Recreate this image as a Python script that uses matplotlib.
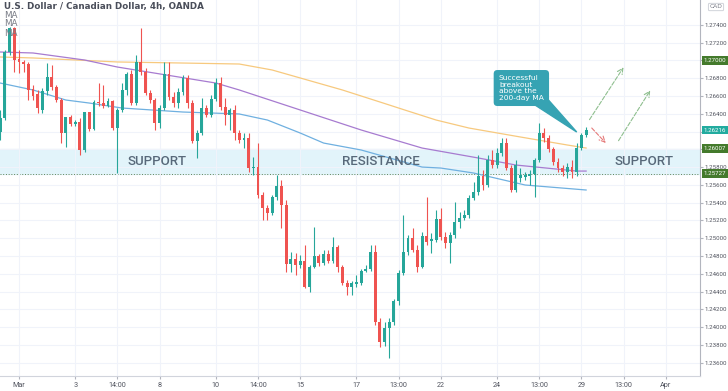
import numpy as np
import matplotlib.pyplot as plt

# USD/CAD 4h candles. bar 0 = first full candle on the left, Mar 1 opens at bar 3
bar = np.arange(-1, 125)

open_ = [1.26195, 1.26353, 1.27095, 1.27365, 1.27016, 1.26983, 1.26960, 1.26679, 1.26623, 1.26443,
         1.26656, 1.26814, 1.26701, 1.26555, 1.26184, 1.26364, 1.26285, 1.26308, 1.25993, 1.26420,
         1.26229, 1.26533, 1.26521, 1.26488, 1.26544, 1.26240, 1.26443, 1.26668, 1.26848, 1.26521,
         1.26983, 1.26870, 1.26634, 1.26555, 1.26296, 1.26465, 1.26848, 1.26589, 1.26521, 1.26645,
         1.26803, 1.26521, 1.26094, 1.26184, 1.26465, 1.26386, 1.26566, 1.26746, 1.26476, 1.26386,
         1.26443, 1.26184, 1.26105, 1.26128, 1.25790, 1.25801, 1.25486, 1.25340, 1.25284, 1.25464,
         1.25588, 1.25374, 1.24710, 1.24766, 1.24699, 1.24744, 1.24451, 1.24676, 1.24800, 1.24721,
         1.24823, 1.24744, 1.24901, 1.24676, 1.24496, 1.24451, 1.24485, 1.24496, 1.24631, 1.24654,
         1.24845, 1.24058, 1.23833, 1.23990, 1.24058, 1.24294, 1.24609, 1.24845, 1.25003, 1.24868,
         1.24676, 1.25025, 1.24969, 1.24980, 1.25216, 1.25014, 1.24946, 1.25036, 1.25183, 1.25228,
         1.25261, 1.25453, 1.25520, 1.25700, 1.25599, 1.25880, 1.25824, 1.25959, 1.26071, 1.25790,
         1.25543, 1.25678, 1.25689, 1.25700, 1.25723, 1.25880, 1.26184, 1.26128, 1.26004, 1.25858,
         1.25790, 1.25745, 1.25801, 1.25745, 1.26015, 1.26161]
high = [1.26443, 1.27118, 1.27376, 1.27376, 1.27118, 1.27005, 1.26983, 1.26724, 1.26668, 1.26690,
        1.26971, 1.26949, 1.26724, 1.26578, 1.26364, 1.26386, 1.26330, 1.26353, 1.26420, 1.26420,
        1.26555, 1.26746, 1.26724, 1.26578, 1.26555, 1.26465, 1.26746, 1.26870, 1.26893, 1.27061,
        1.27365, 1.26915, 1.26668, 1.26578, 1.26499, 1.26983, 1.26983, 1.26645, 1.26690, 1.26836,
        1.26836, 1.26555, 1.26218, 1.26578, 1.26499, 1.26611, 1.26803, 1.26814, 1.26578, 1.26465,
        1.26499, 1.26218, 1.26184, 1.26184, 1.25914, 1.26071, 1.25520, 1.25374, 1.25486, 1.25711,
        1.25655, 1.25430, 1.24845, 1.24834, 1.24811, 1.24924, 1.24699, 1.25126, 1.24823, 1.24868,
        1.24868, 1.25014, 1.24924, 1.24699, 1.24530, 1.24519, 1.24586, 1.24654, 1.24699, 1.24924,
        1.24924, 1.24103, 1.24058, 1.24103, 1.24316, 1.24643, 1.25261, 1.25036, 1.25115, 1.24924,
        1.25070, 1.25464, 1.25059, 1.25318, 1.25340, 1.25070, 1.25070, 1.25408, 1.25295, 1.25318,
        1.25486, 1.25633, 1.25936, 1.25768, 1.25936, 1.25993, 1.26015, 1.26128, 1.26128, 1.25824,
        1.25880, 1.25790, 1.25745, 1.25768, 1.25903, 1.26296, 1.26240, 1.26161, 1.26026, 1.25903,
        1.25824, 1.25846, 1.25880, 1.26071, 1.26184, 1.26251]
low = [1.26105, 1.26330, 1.27061, 1.26870, 1.26859, 1.26870, 1.26555, 1.26555, 1.26409, 1.26409,
       1.26611, 1.26668, 1.26533, 1.26071, 1.26026, 1.26263, 1.26263, 1.25936, 1.25970, 1.26206,
       1.26218, 1.26488, 1.26465, 1.26476, 1.26218, 1.25734, 1.26420, 1.26611, 1.26499, 1.26499,
       1.26836, 1.26611, 1.26521, 1.26218, 1.26240, 1.26443, 1.26555, 1.26476, 1.26465, 1.26611,
       1.26465, 1.26071, 1.25903, 1.26161, 1.26364, 1.26364, 1.26544, 1.26443, 1.26274, 1.26218,
       1.26105, 1.26071, 1.26015, 1.25745, 1.25711, 1.25453, 1.25205, 1.25205, 1.25261, 1.25430,
       1.25115, 1.24620, 1.24620, 1.24586, 1.24665, 1.24440, 1.24395, 1.24665, 1.24688, 1.24699,
       1.24721, 1.24721, 1.24620, 1.24474, 1.24361, 1.24361, 1.24451, 1.24474, 1.24620, 1.24631,
       1.24024, 1.23777, 1.23788, 1.23653, 1.24024, 1.24249, 1.24586, 1.24811, 1.24845, 1.24620,
       1.24665, 1.24924, 1.24834, 1.24958, 1.24980, 1.24890, 1.24721, 1.25003, 1.25115, 1.25205,
       1.25228, 1.25430, 1.25486, 1.25543, 1.25576, 1.25790, 1.25790, 1.25925, 1.25768, 1.25520,
       1.25520, 1.25633, 1.25655, 1.25599, 1.25464, 1.25858, 1.26083, 1.25970, 1.25824, 1.25745,
       1.25700, 1.25678, 1.25678, 1.25700, 1.25993, 1.26139]
close = [1.26353, 1.27095, 1.27365, 1.27005, 1.26983, 1.26960, 1.26668, 1.26600, 1.26465, 1.26656,
         1.26814, 1.26701, 1.26555, 1.26184, 1.26364, 1.26285, 1.26308, 1.25993, 1.26420, 1.26229,
         1.26533, 1.26521, 1.26488, 1.26544, 1.26240, 1.26443, 1.26668, 1.26848, 1.26521, 1.26983,
         1.26870, 1.26634, 1.26555, 1.26296, 1.26465, 1.26848, 1.26589, 1.26521, 1.26645, 1.26803,
         1.26521, 1.26094, 1.26184, 1.26465, 1.26386, 1.26566, 1.26746, 1.26476, 1.26386, 1.26443,
         1.26184, 1.26105, 1.26128, 1.25790, 1.25801, 1.25486, 1.25340, 1.25284, 1.25464, 1.25588,
         1.25374, 1.24710, 1.24766, 1.24699, 1.24744, 1.24451, 1.24676, 1.24800, 1.24721, 1.24823,
         1.24744, 1.24901, 1.24676, 1.24496, 1.24451, 1.24496, 1.24508, 1.24631, 1.24654, 1.24845,
         1.24058, 1.23833, 1.23990, 1.24058, 1.24294, 1.24609, 1.24845, 1.25003, 1.24868, 1.24676,
         1.25025, 1.24958, 1.24991, 1.25216, 1.25014, 1.24946, 1.25036, 1.25183, 1.25228, 1.25261,
         1.25453, 1.25520, 1.25700, 1.25599, 1.25880, 1.25824, 1.25959, 1.26071, 1.25790, 1.25543,
         1.25824, 1.25711, 1.25711, 1.25723, 1.25880, 1.26184, 1.26128, 1.26004, 1.25858, 1.25790,
         1.25745, 1.25801, 1.25745, 1.26015, 1.26161, 1.26216]

ma200_bar = [-1, 6, 24, 38, 50, 57, 63, 72, 80, 86, 92, 99, 110, 120, 124]
ma200 = [1.27039, 1.27028, 1.26983, 1.26971, 1.26960, 1.26893, 1.26803, 1.26668, 1.26533, 1.26431,
         1.26330, 1.26240, 1.26139, 1.26049, 1.26015]
ma100_bar = [-1, 6, 17, 24, 45, 50, 63, 76, 89, 101, 109, 122, 124]
ma100 = [1.27095, 1.27084, 1.27005, 1.26926, 1.26746, 1.26668, 1.26443, 1.26218, 1.26015, 1.25903,
         1.25824, 1.25756, 1.25756]
ma50_bar = [-1, 6, 13, 18, 25, 38, 50, 56, 63, 68, 76, 89, 93, 100, 111, 124]
ma50 = [1.26746, 1.26668, 1.26555, 1.26521, 1.26465, 1.26420, 1.26398, 1.26330, 1.26184, 1.26071,
        1.25993, 1.25801, 1.25790, 1.25734, 1.25599, 1.25543]

# x axis labels
tick_bars = [3, 15, 24, 33, 45, 54, 63, 75, 84, 93, 105, 114, 123, 132, 141]
tick_text = ["Mar", "3", "14:00", "8", "10", "14:00", "15", "17", "13:00", "22", "24", "13:00",
             "29", "13:00", "Apr"]

# key levels
level_top = 1.26007
level_bottom = 1.25727
level_target = 1.27000
last_price = 1.26216

green = "#26a69a"
red = "#ef5350"

fig = plt.figure(figsize=(7.28, 3.91), dpi=100)
ax = fig.add_axes([0, 15 / 391, 700 / 728, 376 / 391])
ax.set_xlim(-1.05, 148.3)
ax.set_ylim(1.23451, 1.2768)

# grid and axes (labels hidden under the price tags are left blank)
yt = np.arange(1.236, 1.2741, 0.002)
hidden = [1.270, 1.262, 1.260]
ax.set_yticks(yt)
ax.set_yticklabels(["" if min(abs(v - h) for h in hidden) < 1e-6 else "%.5f" % v
                    for v in yt], family="Roboto")
ax.yaxis.tick_right()
ax.set_xticks(tick_bars)
ax.set_xticklabels(tick_text, family="Roboto")
ax.grid(True, color="#f0f3fa", lw=0.8, zorder=0)
ax.tick_params(axis="both", labelsize=4.4, labelcolor="#50535e", color="#b2b5be", length=2, pad=1.5)
ax.tick_params(axis="x", labelsize=5.2, pad=2)
for s in ["top", "left"]:
    ax.spines[s].set_visible(False)
ax.spines["right"].set_color("#b2b5be")
ax.spines["bottom"].set_color("#d1d4dc")

# support / resistance zone
ax.axhspan(level_bottom, level_top, color="#e2f4fa", zorder=0.5)
for lv in [level_target, level_top, level_bottom]:
    ax.axhline(lv, color="#5f8257", ls=(0, (1, 1.8)), lw=0.7, zorder=1)

# moving averages
ax.plot(ma200_bar, ma200, color="#f7c97e", lw=0.9, zorder=2)
ax.plot(ma100_bar, ma100, color="#a77bd0", lw=0.9, zorder=2)
ax.plot(ma50_bar, ma50, color="#6fb0e0", lw=0.9, zorder=2)

# candles
o = np.array(open_)
c = np.array(close)
cols = np.where(c >= o, green, red)
ax.vlines(bar, low, high, color=cols, lw=0.8, zorder=3)
body = np.maximum(np.abs(c - o), 0.00004)
ax.bar(bar, body, bottom=np.minimum(o, c), width=0.62, color=cols, zorder=3)

# zone labels
for xb, txt in [(32.4, "SUPPORT"), (80.2, "RESISTANCE"), (136.3, "SUPPORT")]:
    ax.text(xb, 1.25862, txt, fontsize=9.5, family="Roboto", fontweight="medium", color="#58697a",
            ha="center", va="center", zorder=4)

# callout
ax.add_patch(plt.Polygon([(113.1, 1.26499), (115.4, 1.26589), (122.0, 1.26195)],
                         closed=True, color="#36a3b3", zorder=5))
ax.text(105.4, 1.26690, "Successful\nbreakout\nabove the\n200-day MA", fontsize=5.4,
        color="white", linespacing=1.1, ha="left", va="center", zorder=6,
        bbox=dict(boxstyle="round,pad=0.7,rounding_size=0.5", fc="#36a3b3", ec="none"))

# projected paths
ax.annotate("", xy=(132.3, 1.26949), xytext=(124.4, 1.26308),
            arrowprops=dict(arrowstyle="->", ls="--", color="#8fbf8f", lw=0.8))
ax.annotate("", xy=(128.6, 1.26049), xytext=(124.8, 1.26263),
            arrowprops=dict(arrowstyle="->", ls="--", color="#e57a7a", lw=0.8))
ax.annotate("", xy=(138.0, 1.26690), xytext=(130.6, 1.26071),
            arrowprops=dict(arrowstyle="->", ls="--", color="#8fbf8f", lw=0.8))

# price tags on the scale
tr = ax.get_yaxis_transform()
for val, fc in [(level_target, "#447a2c"), (last_price, "#22ab9f"), (level_top, "#447a2c"),
                (level_bottom, "#447a2c")]:
    ax.text(1.005, val, "%.5f" % val, transform=tr, fontsize=4.4, family="Roboto", color="white",
            ha="left", va="center", clip_on=False, zorder=7,
            bbox=dict(boxstyle="square,pad=0.3", fc=fc, ec="none"))

# header
fig.text(4 / 728, 1 - 7 / 391, "U.S. Dollar / Canadian Dollar, 4h, OANDA", fontsize=6.3,
         fontweight="bold", color="#4a4e5a", va="center")
for k in range(3):
    fig.text(4 / 728, 1 - (15 + 9 * k) / 391, "MA", fontsize=6.3, color="#787b86", va="center")
fig.text(716 / 728, 1 - 7 / 391, "CAD", fontsize=4.3, color="#787b86", ha="center", va="center",
         bbox=dict(boxstyle="round,pad=0.2", fc="white", ec="#c9ccd4", lw=0.6))

fig.savefig("out.png", dpi=100)
